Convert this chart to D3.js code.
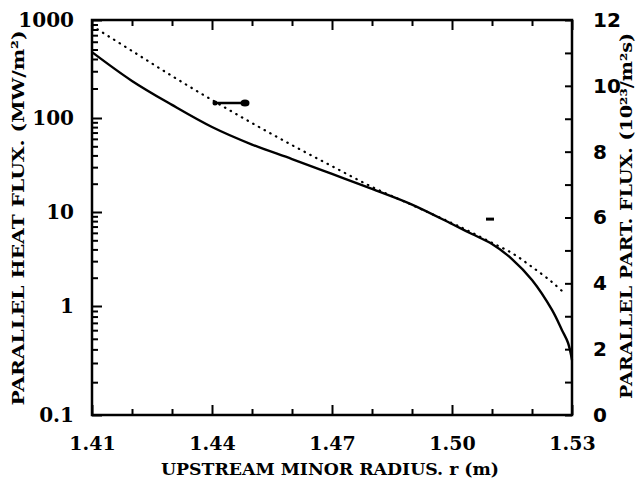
<!DOCTYPE html>
<html><head><meta charset="utf-8">
<script src="https://cdn.jsdelivr.net/npm/d3@7"></script>
<style>
body{margin:0;background:#fff;}
svg{display:block;}
</style></head>
<body><svg id="chart" width="640" height="488"></svg>
<script>
// ---- data ----
const heatR   = [1.410,1.420,1.430,1.440,1.450,1.460,1.470,1.480,1.490,1.500,1.505,1.510,1.515,1.520,1.525,1.5275,1.529,1.530];
const heatFlux= [470,  239,  136,  80.2, 52.2, 36.6, 25.4, 17.6, 12.0, 7.45, 5.83, 4.57, 3.16, 1.89, 0.92, 0.60,  0.46, 0.32];
const partR   = [1.410,1.420,1.430,1.440,1.450,1.460,1.470,1.480,1.490,1.500,1.505,1.510,1.515,1.520,1.525,1.528];
const partFlux= [11.82,11.06,10.30,9.57, 8.87, 8.20, 7.56, 6.93, 6.38, 5.83, 5.54, 5.23, 4.92, 4.50, 4.04, 3.71];
const xTicks = [1.41,1.44,1.47,1.50,1.53];
const xTickLabels = ["1.41","1.44","1.47","1.50","1.53"];
const xMinor = [1.42,1.43,1.45,1.46,1.48,1.49,1.51,1.52];
const leftTicks = [0.1,1,10,100,1000];
const leftTickLabels = ["0.1","1","10","100","1000"];
const rightTicks = [0,2,4,6,8,10,12];
const rightTickLabels = ["0","2","4","6","8","10","12"];
const rightMinor = [1,3,5,7,9,11];
const arrowR = [1.4405,1.4490];   // arrow pointing to right-hand axis
const arrowV = 142;
const dashR = [1.5085,1.5105];    // short marker near solid curve
const dashV = 8.4;
const xTitle = "UPSTREAM MINOR RADIUS. r (m)";
const leftTitle = "PARALLEL HEAT FLUX. (MW/m²)";
const rightTitle = "PARALLEL PART. FLUX. (10²³/m²s)";

// ---- layout ----
const L = 92, R = 572, T = 20, B = 415;
const svg = d3.select("#chart");
const x = d3.scaleLinear().domain([1.41,1.53]).range([L,R]);
const yL = d3.scaleLog().domain([0.1,1,10,100,1000]).range([B,306,212,118,T]);
const yR = d3.scaleLinear().domain([0,12]).range([B,T]);

const serif = "'DejaVu Serif', serif";
const sans = "'DejaVu Sans', sans-serif";

function styleAxis(g){
  g.select(".domain").remove();
  g.selectAll(".tick line").attr("stroke","#000").attr("stroke-width",2);
}

const leftMinor = [];
[0.1,1,10,100].forEach(d=>{for(let k=2;k<=9;k++) leftMinor.push(d*k);});

// left axis
svg.append("g").attr("transform",`translate(${L},0)`)
  .call(d3.axisLeft(yL).tickValues(leftMinor).tickSize(-6).tickFormat(""))
  .call(styleAxis);
svg.append("g").attr("transform",`translate(${L},0)`)
  .call(d3.axisLeft(yL).tickValues(leftTicks).tickSize(-10).tickPadding(18)
        .tickFormat((d,i)=>leftTickLabels[i]))
  .call(styleAxis)
  .call(g=>g.selectAll("text").attr("font-family",serif).attr("font-weight","bold")
        .attr("font-size",20).attr("fill","#000"));

// right axis
svg.append("g").attr("transform",`translate(${R},0)`)
  .call(d3.axisRight(yR).tickValues(rightMinor).tickSize(-7).tickFormat(""))
  .call(styleAxis);
svg.append("g").attr("transform",`translate(${R},0)`)
  .call(d3.axisRight(yR).tickValues(rightTicks).tickSize(-7).tickPadding(21)
        .tickFormat((d,i)=>rightTickLabels[i]))
  .call(styleAxis)
  .call(g=>g.selectAll("text").attr("font-family",sans).attr("font-weight","bold")
        .attr("font-size",20).attr("fill","#000"));

// bottom axis
svg.append("g").attr("transform",`translate(0,${B})`)
  .call(d3.axisBottom(x).tickValues(xMinor).tickSize(-6).tickFormat(""))
  .call(styleAxis);
svg.append("g").attr("transform",`translate(0,${B})`)
  .call(d3.axisBottom(x).tickValues(xTicks).tickSize(-10).tickPadding(22)
        .tickFormat((d,i)=>xTickLabels[i]))
  .call(styleAxis)
  .call(g=>g.selectAll("text").attr("font-family",serif).attr("font-weight","bold")
        .attr("font-size",19).attr("fill","#000"));

// top axis
svg.append("g").attr("transform",`translate(0,${T})`)
  .call(d3.axisTop(x).tickValues(xMinor).tickSize(-6).tickFormat(""))
  .call(styleAxis);
svg.append("g").attr("transform",`translate(0,${T})`)
  .call(d3.axisTop(x).tickValues(xTicks).tickSize(-10).tickFormat(""))
  .call(styleAxis);

// frame
svg.append("rect").attr("x",L).attr("y",T).attr("width",R-L).attr("height",B-T)
  .attr("fill","none").attr("stroke","#000").attr("stroke-width",2.5);

// curves
const heat = heatR.map((r,i)=>[r,heatFlux[i]]);
const part = partR.map((r,i)=>[r,partFlux[i]]);
svg.append("path").datum(heat)
  .attr("d",d3.line().x(d=>x(d[0])).y(d=>yL(d[1])).curve(d3.curveCatmullRom.alpha(0.5)))
  .attr("fill","none").attr("stroke","#000").attr("stroke-width",2.4);
svg.append("path").datum(part)
  .attr("d",d3.line().x(d=>x(d[0])).y(d=>yR(d[1])).curve(d3.curveCatmullRom.alpha(0.5)))
  .attr("fill","none").attr("stroke","#000").attr("stroke-width",2.2)
  .attr("stroke-dasharray","0.5 6").attr("stroke-linecap","round");

// annotations
svg.append("line").attr("x1",x(arrowR[0])).attr("x2",x(arrowR[1]))
  .attr("y1",yL(arrowV)).attr("y2",yL(arrowV)).attr("stroke","#000").attr("stroke-width",2.5);
svg.append("circle").attr("cx",x(arrowR[0])+1).attr("cy",yL(arrowV)).attr("r",2.5).attr("fill","#000");
svg.append("ellipse").attr("cx",x(arrowR[1])-3).attr("cy",yL(arrowV)).attr("rx",4.5).attr("ry",3.5).attr("fill","#000");
svg.append("line").attr("x1",x(dashR[0])).attr("x2",x(dashR[1]))
  .attr("y1",yL(dashV)).attr("y2",yL(dashV)).attr("stroke","#000").attr("stroke-width",3);

// titles
svg.append("text").attr("x",330).attr("y",475).attr("text-anchor","middle")
  .attr("font-family",serif).attr("font-weight","bold").attr("font-size",16)
  .attr("textLength",338).attr("lengthAdjust","spacingAndGlyphs").text(xTitle);
svg.append("text").attr("transform","translate(24,218) rotate(-90)").attr("text-anchor","middle")
  .attr("font-family",serif).attr("font-weight","bold").attr("font-size",17)
  .attr("textLength",375).attr("lengthAdjust","spacingAndGlyphs").text(leftTitle);
svg.append("text").attr("transform","translate(632,216) rotate(-90)").attr("text-anchor","middle")
  .attr("font-family",serif).attr("font-weight","bold").attr("font-size",16)
  .attr("textLength",366).attr("lengthAdjust","spacingAndGlyphs").text(rightTitle);
</script></body></html>
